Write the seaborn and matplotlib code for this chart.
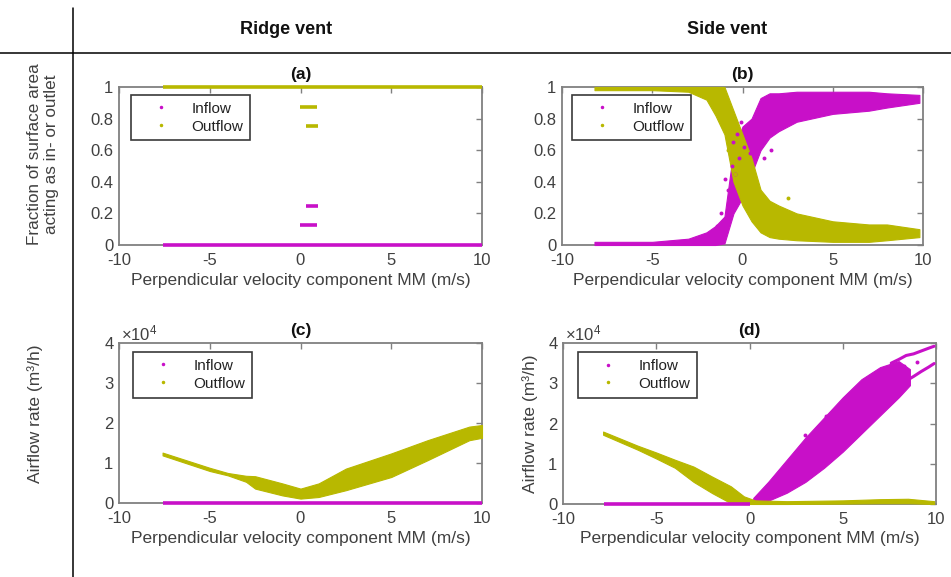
import numpy as np
import pandas as pd
import matplotlib
matplotlib.use("Agg")
import matplotlib.pyplot as plt
import seaborn as sns
from matplotlib.lines import Line2D
from matplotlib.ticker import FuncFormatter

# ---------------- data ----------------
x_ticks = [-10, -5, 0, 5, 10]
frac_ticks = [0, 0.2, 0.4, 0.6, 0.8, 1.0]
frac_labels = ["0", "0.2", "0.4", "0.6", "0.8", "1"]
flow_ticks = [0, 10000, 20000, 30000, 40000]

# (a) Ridge vent fraction: horizontal runs of points
a_in_frac = [0.0, 0.125, 0.25]
a_in_xmin = [-7.6, -0.05, 0.3]
a_in_xmax = [10.0, 0.9, 0.95]
a_out_frac = [1.0, 0.875, 0.75]
a_out_xmin = [-7.6, -0.05, 0.3]
a_out_xmax = [10.0, 0.9, 0.95]

# (b) Side vent fraction: envelopes of the point clouds
b_in_x = [-8.2, -5.0, -3.0, -2.0, -1.5, -1.0, -0.5, 0.0, 0.5, 1.0, 1.5, 2.0, 3.0, 5.0, 7.0, 8.0, 9.8]
b_in_lo = [0.00, 0.00, 0.00, 0.00, 0.00, 0.01, 0.20, 0.30, 0.45, 0.60, 0.68, 0.72, 0.78, 0.83, 0.85, 0.87, 0.90]
b_in_hi = [0.02, 0.02, 0.04, 0.08, 0.12, 0.18, 0.60, 0.75, 0.80, 0.93, 0.96, 0.96, 0.97, 0.97, 0.97, 0.96, 0.95]
b_out_x = [-8.2, -5.0, -3.0, -2.0, -1.5, -1.0, -0.5, 0.0, 0.5, 1.0, 1.5, 2.0, 3.0, 5.0, 7.0, 8.0, 9.8]
b_out_lo = [0.98, 0.98, 0.97, 0.92, 0.82, 0.70, 0.40, 0.25, 0.15, 0.08, 0.05, 0.04, 0.03, 0.02, 0.02, 0.03, 0.05]
b_out_hi = [1.00, 1.00, 1.00, 1.00, 1.00, 1.00, 0.85, 0.70, 0.55, 0.35, 0.28, 0.25, 0.20, 0.15, 0.13, 0.13, 0.10]
b_in_pts_x = [-0.9, -0.8, -0.7, -0.6, -0.5, -0.4, -0.3, -0.2, -0.1, 0.1, 0.2, 0.4, -1.2, -1.4, -0.95, 1.2, 1.6]
b_in_pts_y = [0.15, 0.35, 0.25, 0.50, 0.65, 0.45, 0.70, 0.55, 0.78, 0.62, 0.72, 0.58, 0.20, 0.12, 0.42, 0.55, 0.60]
b_out_pts_x = [-1.1, -0.9, -0.8, -0.6, -0.5, -0.4, -0.2, 0.0, 0.2, 0.4, 0.6, 0.8, 1.0, 1.2, 2.5]
b_out_pts_y = [0.90, 0.75, 0.60, 0.68, 0.55, 0.45, 0.50, 0.38, 0.42, 0.30, 0.25, 0.35, 0.20, 0.28, 0.30]

# (c) Ridge vent airflow (m3/h)
c_in_flow = [0.0]
c_in_xmin = [-7.6]
c_in_xmax = [10.0]
c_out_x = [-7.6, -5.0, -4.0, -3.0, -2.5, -1.0, 0.0, 1.0, 2.5, 5.0, 7.0, 9.3, 10.0]
c_out_lo = [11900, 8000, 6900, 5300, 3600, 1900, 1100, 1500, 3200, 6500, 10700, 15700, 16300]
c_out_hi = [12600, 8800, 7500, 6800, 6700, 4900, 3600, 4900, 8600, 12400, 15700, 19100, 19500]

# (d) Side vent airflow (m3/h)
d_in_flow = [0.0]
d_in_xmin = [-7.8]
d_in_xmax = [0.0]
d_in_x = [0.2, 1.0, 2.0, 3.0, 4.0, 5.0, 6.0, 7.0, 8.0, 8.6]
d_in_lo = [200, 800, 2800, 5500, 9000, 13000, 17500, 22000, 26500, 29500]
d_in_hi = [1500, 5500, 11000, 16500, 21500, 26500, 31000, 34000, 35500, 33500]
d_in_upper_x = [7.6, 8.0, 8.4, 8.8, 9.2, 9.6, 9.9]
d_in_upper_y = [35000, 35900, 36900, 37300, 38000, 38700, 39200]
d_in_lower_x = [8.4, 8.8, 9.2, 9.6, 9.9]
d_in_lower_y = [30600, 31700, 32900, 34000, 34900]
d_in_pts_x = [3.0, 4.1, 6.5, 8.3, 9.0]
d_in_pts_y = [17200, 21800, 31800, 34200, 35200]
d_out_x = [-7.85, -6.0, -5.0, -4.0, -3.0, -2.0, -1.0, -0.3, 0.3, 2.0, 5.0, 7.0, 8.5, 9.9]
d_out_lo = [17200, 13500, 11300, 9000, 5500, 2700, 200, 0, 0, 0, 100, 200, 200, 0]
d_out_hi = [18000, 14500, 12800, 11000, 9300, 6800, 4400, 1900, 900, 700, 900, 1200, 1300, 700]

series_names = ["Inflow", "Outflow"]
col_headers = ["Ridge vent", "Side vent"]
row_headers = ["Fraction of surface area\nacting as in- or outlet", "Airflow rate (m\u00b3/h)"]
panel_titles = ["(a)", "(b)", "(c)", "(d)"]
x_label = "Perpendicular velocity component MM (m/s)"

# ---------------- style ----------------
sns.set_style("white")
plt.rcParams["font.family"] = ["Liberation Sans", "DejaVu Sans"]
plt.rcParams["mathtext.fontset"] = "custom"
plt.rcParams["mathtext.rm"] = "Liberation Sans"
plt.rcParams["mathtext.it"] = "Liberation Sans:italic"

MAG = "#c810c8"
YEL = "#b8b800"
AX_COL = "#808080"
TXT = "#404040"

W, H = 951, 577
fig = plt.figure(figsize=(W / 100, H / 100), dpi=100)


def axes_px(l, t, r, b):
    return fig.add_axes([l / W, (H - b) / H, (r - l) / W, (b - t) / H])


ax_a = axes_px(119, 87, 482, 245)
ax_b = axes_px(562, 87, 923, 245)
ax_c = axes_px(119, 343, 482, 503)
ax_d = axes_px(563, 343, 936, 504)


def style(ax, frac):
    ax.set_xlim(-10, 10)
    ax.set_xticks(x_ticks)
    ax.set_xticklabels([str(v) for v in x_ticks])
    if frac:
        ax.set_ylim(0, 1)
        ax.set_yticks(frac_ticks)
        ax.set_yticklabels(frac_labels)
    else:
        ax.set_ylim(0, 40000)
        ax.set_yticks(flow_ticks)
        ax.yaxis.set_major_formatter(FuncFormatter(lambda v, p: f"{v / 1e4:g}"))
        ax.text(0.005, 1.0, r"$\times10^{4}$", transform=ax.transAxes, ha="left",
                va="bottom", fontsize=12, color=TXT)
    ax.tick_params(direction="in", top=True, right=True, length=4, width=1,
                   colors=AX_COL, labelcolor=TXT, labelsize=12)
    ax.tick_params(axis="x", pad=6)
    ax.tick_params(axis="y", pad=4)
    for s in ax.spines.values():
        s.set_visible(True)
        s.set_color(AX_COL)
        s.set_linewidth(1.3)
        s.set_zorder(1)
    ax.set_xlabel(x_label, fontsize=12.5, color=TXT, labelpad=3)
    ax.set_ylabel("")
    ax.grid(False)


def band(ax, x, lo, hi, color):
    ax.fill_between(x, lo, hi, color=color, lw=0.8, edgecolor=color, zorder=3,
                    clip_on=False)


def pts(ax, x, y, color):
    df = pd.DataFrame({"x": x, "y": y})
    sns.scatterplot(data=df, x="x", y="y", ax=ax, color=color, s=8, linewidth=0,
                    legend=False, zorder=4, clip_on=False)


def trail(ax, x, y, color):
    df = pd.DataFrame({"x": x, "y": y})
    sns.lineplot(data=df, x="x", y="y", ax=ax, color=color, lw=2.2, legend=False,
                 zorder=4, estimator=None, sort=False)


def runs(ax, y, xmin, xmax, color):
    ax.hlines(y, xmin, xmax, colors=color, lw=2.6, zorder=4, clip_on=False)


def legend(ax, bx, by):
    handles = [Line2D([], [], ls="none", marker=".", markersize=3, color=MAG),
               Line2D([], [], ls="none", marker=".", markersize=3, color=YEL)]
    lg = ax.legend(handles, series_names, loc="upper left", bbox_to_anchor=(bx, by),
                   borderaxespad=0, frameon=True, fancybox=False, framealpha=1,
                   fontsize=11, handlelength=3.0, handletextpad=0.5,
                   labelspacing=0.25, borderpad=0.45)
    lg.get_frame().set_edgecolor("#3a3a3a")
    lg.get_frame().set_linewidth(1.2)
    lg.set_zorder(6)
    for t in lg.get_texts():
        t.set_color("#222222")


# (a)
runs(ax_a, a_in_frac, a_in_xmin, a_in_xmax, MAG)
runs(ax_a, a_out_frac, a_out_xmin, a_out_xmax, YEL)
style(ax_a, True)
legend(ax_a, 0.033, 0.95)

# (b)
band(ax_b, b_in_x, b_in_lo, b_in_hi, MAG)
pts(ax_b, b_in_pts_x, b_in_pts_y, MAG)
band(ax_b, b_out_x, b_out_lo, b_out_hi, YEL)
pts(ax_b, b_out_pts_x, b_out_pts_y, YEL)
style(ax_b, True)
legend(ax_b, 0.028, 0.95)

# (c)
runs(ax_c, c_in_flow, c_in_xmin, c_in_xmax, MAG)
band(ax_c, c_out_x, c_out_lo, c_out_hi, YEL)
style(ax_c, False)
legend(ax_c, 0.039, 0.944)

# (d)
runs(ax_d, d_in_flow, d_in_xmin, d_in_xmax, MAG)
band(ax_d, d_in_x, d_in_lo, d_in_hi, MAG)
trail(ax_d, d_in_upper_x, d_in_upper_y, MAG)
trail(ax_d, d_in_lower_x, d_in_lower_y, MAG)
pts(ax_d, d_in_pts_x, d_in_pts_y, MAG)
band(ax_d, d_out_x, d_out_lo, d_out_hi, YEL)
style(ax_d, False)
legend(ax_d, 0.04, 0.944)
ax_d.set_ylabel(row_headers[1], fontsize=12.5, color=TXT)
ax_d.yaxis.set_label_coords(-25 / 373, 0.5)

for ax, t in zip([ax_a, ax_b, ax_c, ax_d], panel_titles):
    ax.set_title(t, fontsize=12.5, fontweight="bold", color="#111111", pad=6)

# table-like frame
fig.add_artist(Line2D([73 / W, 73 / W], [0, 1 - 8 / H], transform=fig.transFigure,
                      color="black", lw=1.1))
fig.add_artist(Line2D([0, 1], [1 - 53 / H, 1 - 53 / H], transform=fig.transFigure,
                      color="black", lw=1.1))
fig.text(286 / W, 1 - 30 / H, col_headers[0], ha="center", va="center",
         fontsize=13, fontweight="bold", color="#111111")
fig.text(727 / W, 1 - 30 / H, col_headers[1], ha="center", va="center",
         fontsize=13, fontweight="bold", color="#111111")
fig.text(43 / W, 1 - 154 / H, row_headers[0], ha="center", va="center", rotation=90,
         fontsize=12.3, color=TXT, linespacing=1.15)
fig.text(35 / W, 1 - 414 / H, row_headers[1], ha="center", va="center", rotation=90,
         fontsize=12.5, color=TXT)

fig.savefig("out.png", dpi=100, facecolor="white")
